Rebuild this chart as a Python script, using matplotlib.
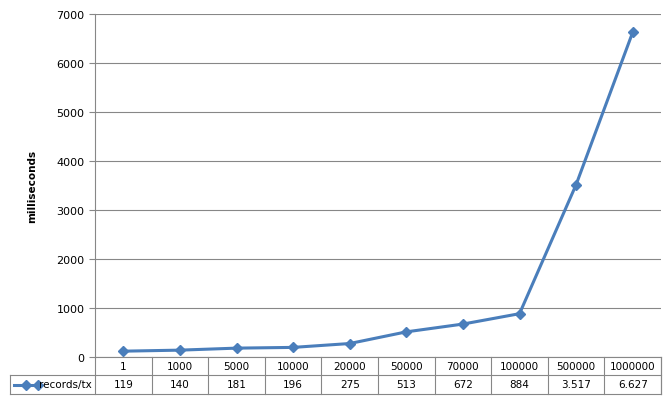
import matplotlib
matplotlib.use("Agg")
import matplotlib.pyplot as plt
from matplotlib.lines import Line2D

categories = ["1", "1000", "5000", "10000", "20000", "50000", "70000", "100000", "500000", "1000000"]
values = [119, 140, 181, 196, 275, 513, 672, 884, 3517, 6627]
value_labels = ["119", "140", "181", "196", "275", "513", "672", "884", "3.517", "6.627"]
series_name = "records/tx"

W, H = 671, 402
fig = plt.figure(figsize=(W/100, H/100), dpi=100)
x0, x1, ytop, ybot = 95, 661, 15, 358
ax = fig.add_axes([x0/W, 1-ybot/H, (x1-x0)/W, (ybot-ytop)/H])
n = len(categories)
xs = [i + 0.5 for i in range(n)]
color = "#4A7EBB"
ax.plot(xs, values, color=color, lw=2.2, marker="D", ms=5)
ax.set_xlim(0, n)
ax.set_ylim(0, 7000)
ax.set_yticks(range(0, 7001, 1000))
ax.set_xticks([])
ax.grid(axis="y", color="#878787", lw=0.8)
ax.set_axisbelow(True)
for s in ["top", "right"]:
    ax.spines[s].set_visible(False)
ax.spines["left"].set_color("#878787")
ax.spines["bottom"].set_color("#878787")
ax.tick_params(axis="y", labelsize=8, length=4, color="#878787")
ax.set_ylabel("milliseconds", fontsize=7.5, fontweight="bold", labelpad=14)

# data table
lc = "#878787"
r1, r2, r3 = 358, 376, 395
lx = 10
cw = (x1 - x0) / n
def fl(xa, ya, xb, yb):
    fig.add_artist(Line2D([xa/W, xb/W], [1-ya/H, 1-yb/H], color=lc, lw=0.8, transform=fig.transFigure))
fl(x0, r2, x1, r2)
fl(lx, r2, x0, r2)
fl(lx, r3, x1, r3)
fl(lx, r2, lx, r3)
fl(x1, r1, x1, r3)
for i in range(n + 1):
    fl(x0 + i*cw, r1, x0 + i*cw, r3)
for i in range(n):
    cx = (x0 + (i+0.5)*cw) / W
    fig.text(cx, 1-(r1+r2)/2/H, categories[i], ha="center", va="center", fontsize=7.5)
    fig.text(cx, 1-(r2+r3)/2/H, value_labels[i], ha="center", va="center", fontsize=7.5)
ym = 1-(r2+r3)/2/H
fig.add_artist(Line2D([14/W, 38/W], [ym, ym], color=color, lw=2.2, marker="D", markevery=[1], ms=5, transform=fig.transFigure))
fig.add_artist(Line2D([26/W], [ym], color=color, marker="D", ms=5, transform=fig.transFigure))
fig.text(39/W, ym, series_name, ha="left", va="center", fontsize=7.5)
fig.savefig("out.png", dpi=100)
